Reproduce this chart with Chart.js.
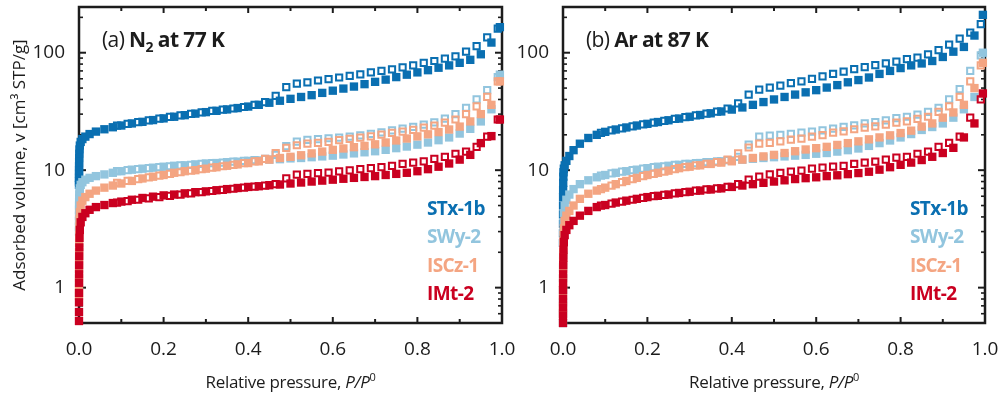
<!DOCTYPE html>
<html>
<head>
<meta charset="utf-8">
<script src="https://cdn.jsdelivr.net/npm/chart.js@4.4.1/dist/chart.umd.min.js"></script>
<style>
html,body{margin:0;padding:0;background:#fff;}
#wrap{position:relative;width:1002px;height:397px;overflow:hidden;}
.pane{position:absolute;top:0;}
</style>
</head>
<body>
<div id="wrap">
  <div class="pane" style="left:0;width:530px;height:397px"><canvas id="ca" width="530" height="397"></canvas></div>
  <div class="pane" style="left:512px;width:490px;height:397px"><canvas id="cb" width="490" height="397"></canvas></div>
</div>
<script>
// ---------- DATA ----------
const sampleNames = ['STx-1b', 'SWy-2', 'ISCz-1', 'IMt-2'];

// relative pressure P/P0, adsorption branch
const adsP = [0.00001,0.00002,0.00004,0.00007,0.00012,0.0002,0.0003,0.0005,0.0008,0.0012,0.002,0.004,0.008,0.015,
  0.025,0.04,0.06,0.08,
  0.1,0.125,0.15,0.175,0.2,0.225,0.25,0.275,0.3,0.325,0.35,0.375,0.4,0.425,0.45,0.475,0.5,0.525,0.55,0.575,
  0.6,0.625,0.65,0.675,0.7,0.725,0.75,0.775,0.8,0.825,0.85,0.875,0.9,0.925,0.95,0.975,0.995];
// relative pressure P/P0, desorption branch
const desP = [0.99,0.965,0.94,0.915,0.89,0.865,0.84,0.815,0.79,0.765,0.74,0.715,0.69,0.665,0.64,0.615,0.59,0.565,0.54,0.515,
  0.49,0.465,0.44,0.415,0.39,0.365,0.34,0.315,0.29,0.265,0.24,0.215,0.19,0.165,0.14,0.115,0.09];

// (a) N2 at 77 K  - adsorbed volume [cm3 STP/g]
const n2AdsSTx = [7.5,8.0,8.6,9.3,10.0,10.8,11.7,12.7,13.8,15.0,16.2,17.4,18.4,19.3,
  20.3,21.3,22.3,23.2,
  24.0,25.0,25.8,26.7,27.6,28.5,29.4,30.3,31.2,32.0,32.9,33.8,34.8,36.0,37.5,39.0,40.5,42.0,43.5,45.5,
  47.5,49.5,51.5,54.0,56.5,59.0,62.0,65.0,68.0,71.0,74.5,78.0,82.0,87.0,97.0,122,165];
const n2AdsSWy = [3.0,3.3,3.7,4.1,4.6,5.0,5.4,5.8,6.2,6.6,7.0,7.5,7.9,8.3,
  8.6,8.9,9.2,9.5,
  9.8,10.1,10.3,10.5,10.7,10.9,11.0,11.2,11.4,11.5,11.7,11.8,12.0,12.1,12.3,12.4,12.6,12.7,12.9,13.1,
  13.3,13.6,13.9,14.2,14.5,14.9,15.4,15.9,16.5,17.2,18.0,19.0,20.5,22.5,26.0,33.0,65];
const n2AdsISCz = [0.85,1.0,1.2,1.45,1.7,2.0,2.4,2.8,3.3,3.8,4.4,5.0,5.5,5.9,
  6.3,6.7,7.1,7.4,
  7.7,8.1,8.5,8.8,9.1,9.5,9.8,10.0,10.3,10.6,10.9,11.2,11.5,11.9,12.3,12.7,13.0,13.4,13.9,14.4,
  14.9,15.3,15.7,16.1,16.6,17.2,17.9,18.6,19.4,20.2,21.1,22.2,23.5,26.0,30.0,36.0,57];
const n2AdsIMt = [0.52,0.62,0.75,0.9,1.1,1.3,1.55,1.85,2.2,2.65,3.1,3.6,4.0,4.3,
  4.6,4.85,5.05,5.25,
  5.4,5.6,5.8,5.95,6.1,6.2,6.35,6.5,6.6,6.75,6.9,7.05,7.2,7.3,7.45,7.55,7.7,7.85,8.0,8.15,
  8.3,8.45,8.6,8.75,8.9,9.1,9.3,9.5,9.8,10.2,10.7,11.4,12.3,13.5,17.0,19.5,27];
const n2DesSTx = [160,135,114,102,93,89,85,82,78,75,72,70,68,65.5,63.5,61.5,59.5,58,56,54.5,
  51,43,38,36,34.5,33.5,32.8,32,31,30.2,29.3,28.4,27.5,26.6,25.7,24.8,24];
const n2DesSWy = [62,48,40,34,30,27.5,25.5,24.4,23.4,22.6,21.8,21,20.4,19.8,19.3,18.9,18.7,18.4,18.1,17.5,
  16,13.5,12.5,12.2,12.0,11.8,11.6,11.5,11.3,11.1,11.0,10.8,10.6,10.4,10.2,10.0,9.8];
const n2DesISCz = [57,42,35,30,27,25.4,24,23,22,21.3,20.8,20.1,19.4,18.9,18.5,18,17.4,17.1,16.8,16.3,
  15.5,14,12.5,11.9,11.5,11.1,10.8,10.5,10.2,9.9,9.6,9.3,9.0,8.7,8.4,8.1,7.8];
const n2DesIMt = [27,19.3,15.8,14.4,13.8,13,12.5,11.9,11.6,11.3,10.9,10.6,10.4,10.2,9.95,9.75,9.55,9.45,9.3,9.15,
  8.5,7.6,7.4,7.25,7.1,6.95,6.8,6.65,6.5,6.35,6.2,6.05,5.9,5.75,5.6,5.45,5.3];

// (b) Ar at 87 K  - adsorbed volume [cm3 STP/g]
const arAdsSTx = [2.4,2.9,3.5,4.2,5.0,5.9,6.8,7.8,8.8,9.6,10.3,11.0,12.0,13.2,
  14.8,16.8,18.8,20.0,
  21.2,22.2,23.1,24.0,24.8,25.7,26.6,27.5,28.5,29.5,30.5,31.6,32.8,34.2,36.0,38.0,40.0,42.0,44.0,46.0,
  48.0,50.5,53.0,56.0,58.5,61.5,66.0,70.0,74.0,78.0,81.0,85.0,92.0,102,112,140,210];
const arAdsSWy = [0.5,0.6,0.75,0.95,1.2,1.5,1.9,2.4,3.0,3.6,4.3,5.0,5.6,6.2,
  6.9,7.6,8.2,8.7,
  9.1,9.5,9.8,10.1,10.4,10.7,10.9,11.1,11.3,11.5,11.7,11.9,12.1,12.3,12.5,12.7,12.9,13.1,13.3,13.5,
  13.8,14.0,14.4,14.8,15.3,16.1,17.0,17.9,19.0,20.3,22.0,23.3,25.0,28.0,33.0,42.0,100];
const arAdsISCz = [0.6,0.7,0.85,1.0,1.2,1.45,1.7,2.0,2.4,2.8,3.2,3.7,4.1,4.5,
  5.0,5.7,6.3,6.7,
  7.1,7.6,8.1,8.6,9.1,9.5,9.9,10.4,10.7,11.0,11.3,11.6,11.9,12.3,12.7,13.1,13.5,14.0,14.5,15.0,
  15.4,15.8,16.4,17.0,17.6,18.3,19.0,19.8,20.7,21.7,23.5,25.0,28.0,31.0,36.0,50.0,82];
const arAdsIMt = [0.5,0.58,0.68,0.8,0.95,1.1,1.3,1.55,1.8,2.1,2.45,2.8,3.1,3.4,
  3.7,4.1,4.5,4.85,
  5.05,5.3,5.5,5.7,5.9,6.05,6.2,6.4,6.55,6.7,6.85,7.0,7.2,7.4,7.6,7.8,8.0,8.2,8.4,8.55,
  8.7,8.9,9.05,9.25,9.45,9.7,10.1,10.6,11.1,11.6,12.2,13.0,14.0,15.5,19.0,25.0,45];
const arDesSTx = [175,148,132,117,105,97,91,88,84,81,78.5,75.5,72.5,69,66,63,60,57,55,52.5,
  50.5,48.5,44,37,33.5,31.5,30.3,29.3,28.3,27.3,26.3,25.4,24.5,23.6,22.7,21.8,20.8];
const arDesSWy = [95,70,49,40,34,31.4,29.7,28.5,27.8,26.6,25.6,25,24.1,23.4,22.6,21.8,21.3,20.9,20.4,20.0,
  19.7,19.3,16.5,13.0,12.2,11.9,11.7,11.5,11.3,11.1,10.8,10.6,10.3,10.0,9.7,9.4,9.0];
const arDesISCz = [78,57,42,35,31.4,28.5,27.3,26,25.4,24.4,23.6,23,22.3,21.4,20.9,19.9,19.3,18.6,18.2,17.6,
  17.1,16.8,15.6,13.9,12.3,11.7,11.3,11.0,10.6,10.2,9.7,9.3,8.9,8.4,7.9,7.4,6.9];
const arDesIMt = [40,28,19.3,17.1,15.8,14.4,13.8,13.0,12.8,12.3,11.8,11.6,11.3,10.9,10.7,10.5,10.3,9.9,9.7,9.5,
  9.2,8.8,8.3,7.6,7.2,7.0,6.85,6.7,6.5,6.35,6.15,6.0,5.8,5.6,5.4,5.2,5.0];

// axis ticks
const xTickVals = [0, 0.2, 0.4, 0.6, 0.8, 1.0];
const xTickLabels = ['0.0', '0.2', '0.4', '0.6', '0.8', '1.0'];
const xMinorVals = [0.1, 0.3, 0.5, 0.7, 0.9];
const yTickVals = [1, 10, 100];
const yTickLabels = ['1', '10', '100'];
const yMinorVals = [0.6,0.7,0.8,0.9,2,3,4,5,6,7,8,9,20,30,40,50,60,70,80,90,200];

// ---------- STYLE ----------
const seriesColors = ['#0a6fb1', '#92c5de', '#f4a582', '#ca0020'];
const FONT = "'Open Sans', 'Noto Sans', sans-serif";
const INK = '#1c1c1c';

Chart.defaults.font.family = FONT;
Chart.defaults.color = INK;

const framePlugin = {
  id: 'frame',
  beforeDatasetsDraw(chart) {
    const {ctx, chartArea: {left, right, top, bottom}, scales: {x, y}} = chart;
    ctx.save();
    ctx.strokeStyle = INK;
    ctx.lineWidth = 2.5;
    ctx.strokeRect(left, top, right - left, bottom - top);
    ctx.lineWidth = 2;
    const seg = (x1, y1, x2, y2) => { ctx.beginPath(); ctx.moveTo(x1, y1); ctx.lineTo(x2, y2); ctx.stroke(); };
    xTickVals.forEach(v => { const p = x.getPixelForValue(v); seg(p, bottom, p, bottom - 6); seg(p, top, p, top + 6); });
    xMinorVals.forEach(v => { const p = x.getPixelForValue(v); seg(p, bottom, p, bottom - 4); seg(p, top, p, top + 4); });
    yTickVals.forEach(v => { const p = y.getPixelForValue(v); seg(left, p, left + 7, p); seg(right, p, right - 7, p); });
    ctx.lineWidth = 1.6;
    yMinorVals.forEach(v => { const p = y.getPixelForValue(v); seg(left, p, left + 4, p); seg(right, p, right - 4, p); });
    ctx.restore();
  }
};

function drawSegs(ctx, x, y, segs) {
  let cx = x;
  segs.forEach(s => {
    ctx.font = s.font;
    ctx.fillText(s.t, cx, y + (s.dy || 0));
    cx += ctx.measureText(s.t).width;
  });
}
function segsWidth(ctx, segs) {
  let w = 0;
  segs.forEach(s => { ctx.font = s.font; w += ctx.measureText(s.t).width; });
  return w;
}

const textPlugin = {
  id: 'panelText',
  afterDraw(chart, args, opts) {
    const {ctx, chartArea: {left, right}} = chart;
    ctx.save();
    ctx.textBaseline = 'alphabetic';
    ctx.textAlign = 'left';
    ctx.fillStyle = INK;
    ctx.letterSpacing = '-0.6px';
    // panel title
    drawSegs(ctx, left + 23, 47, opts.title);
    // legend (sample names)
    sampleNames.forEach((name, k) => {
      ctx.fillStyle = seriesColors[k];
      ctx.font = 'bold 19px ' + FONT;
      ctx.fillText(name, right - 75, 215 + 28.3 * k);
    });
    // x axis title
    ctx.letterSpacing = '-0.3px';
    ctx.fillStyle = INK;
    const xt = [
      {t: 'Relative pressure, ', font: '17px ' + FONT},
      {t: 'P/P', font: 'italic 17px ' + FONT},
      {t: '0', font: '11px ' + FONT, dy: -7}
    ];
    const w = segsWidth(ctx, xt);
    drawSegs(ctx, (left + right) / 2 - w / 2, 388, xt);
    ctx.restore();
  }
};

function buildDatasets(ads, des) {
  const out = [];
  ads.forEach((vals, k) => {
    out.push({
      label: sampleNames[k] + ' adsorption',
      data: adsP.map((p, i) => ({x: p, y: vals[i]})),
      pointStyle: 'rect', pointRadius: 5.9, pointHoverRadius: 5.9,
      backgroundColor: seriesColors[k], borderColor: seriesColors[k], borderWidth: 0,
      showLine: false, clip: false, order: 8 - 2 * k
    });
    out.push({
      label: sampleNames[k] + ' desorption',
      data: desP.map((p, i) => ({x: p, y: des[k][i]})),
      pointStyle: 'rect', pointRadius: 4.4, pointHoverRadius: 4.4,
      backgroundColor: 'rgba(255,255,255,0)', borderColor: seriesColors[k], borderWidth: 2,
      showLine: false, clip: false, order: 7 - 2 * k
    });
  });
  return out;
}

function makePanel(id, ads, des, title, yWidth, padRight, showYTitle) {
  return new Chart(document.getElementById(id), {
    type: 'scatter',
    data: {datasets: buildDatasets(ads, des)},
    options: {
      responsive: false, animation: false, devicePixelRatio: 1, events: [],
      layout: {padding: {top: 7, right: padRight, left: 0, bottom: 0}},
      plugins: {legend: {display: false}, tooltip: {enabled: false}, panelText: {title: title}},
      scales: {
        x: {
          type: 'linear', min: 0, max: 1.0,
          grid: {display: false}, border: {display: false},
          afterBuildTicks: s => { s.ticks = xTickVals.map(v => ({value: v})); },
          ticks: {padding: 7, font: {size: 19}, color: INK, maxRotation: 0, autoSkip: false,
                  callback: (v, i) => xTickLabels[i]},
          afterFit: s => { s.height = 74; s.paddingLeft = 0; s.paddingRight = 0; s.paddingTop = 0; s.paddingBottom = 0; }
        },
        y: {
          type: 'logarithmic', min: 0.5, max: 245,
          grid: {display: false}, border: {display: false},
          afterBuildTicks: s => { s.ticks = yTickVals.map(v => ({value: v})); },
          ticks: {padding: 6, font: {size: 19}, color: INK, autoSkip: false,
                  callback: (v, i) => yTickLabels[i]},
          title: {display: showYTitle, text: 'Adsorbed volume, v [cm³ STP/g]',
                  font: {size: 17}, color: INK, padding: {top: 10, bottom: 0}},
          afterFit: s => { s.width = yWidth; s.paddingLeft = 0; s.paddingRight = 0; s.paddingTop = 0; s.paddingBottom = 0; }
        }
      }
    },
    plugins: [framePlugin, textPlugin]
  });
}

const titleA = [
  {t: '(a) ', font: '21px ' + FONT},
  {t: 'N', font: 'bold 21px ' + FONT},
  {t: '2', font: 'bold 14px ' + FONT, dy: 5},
  {t: ' at 77 K', font: 'bold 21px ' + FONT}
];
const titleB = [
  {t: '(b) ', font: '21px ' + FONT},
  {t: 'Ar at 87 K', font: 'bold 21px ' + FONT}
];

makePanel('ca', [n2AdsSTx, n2AdsSWy, n2AdsISCz, n2AdsIMt], [n2DesSTx, n2DesSWy, n2DesISCz, n2DesIMt], titleA, 79, 28, true);
makePanel('cb', [arAdsSTx, arAdsSWy, arAdsISCz, arAdsIMt], [arDesSTx, arDesSWy, arDesISCz, arDesIMt], titleB, 51, 17, false);
</script>
</body>
</html>
